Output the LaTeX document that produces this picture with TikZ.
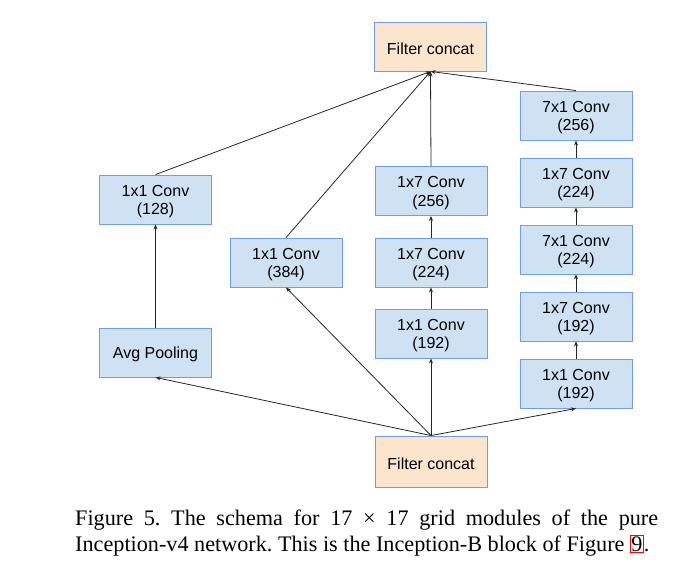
\documentclass[tikz,border=0pt]{standalone}
\usepackage{fontspec}
\setmainfont{Liberation Serif}
\newfontfamily\boxfont{Liberation Sans}
\usetikzlibrary{arrows.meta}
\definecolor{boxblue}{HTML}{CFE2F3}
\definecolor{boxpeach}{HTML}{FCE5CD}
\definecolor{boxedge}{HTML}{6D9EEB}
\newcommand{\topstrut}{\rule{0pt}{15.5pt}}
\tikzset{
  convbox/.style={draw=boxedge, fill=boxblue, line width=0.9pt, minimum width=112pt, minimum height=49pt, inner sep=0pt, align=center, font=\boxfont\fontsize{16}{18.5}\selectfont},
  concatbox/.style={convbox, fill=boxpeach},
  link/.style={line width=0.8pt, draw=black!85, -{Stealth[length=5pt,width=4pt]}},
  captext/.style={anchor=base west, inner sep=0pt, font=\frenchspacing\fontsize{22.2}{26}\selectfont}
}
\begin{document}
\begin{tikzpicture}[x=1pt,y=-1pt]
\useasboundingbox (0,0) rectangle (673,566);
% nodes
\node[concatbox] (top) at (430.5,46.5) {\topstrut Filter concat};
\node[concatbox, minimum height=51pt] (bot) at (431,461.5) {\topstrut Filter concat};
\node[convbox] (a2) at (155.5,199.5) {\topstrut 1x1 Conv\\(128)};
\node[convbox] (a1) at (155.5,352.5) {\topstrut Avg Pooling};
\node[convbox] (b1) at (286,262.5) {\topstrut 1x1 Conv\\(384)};
\node[convbox] (c3) at (431,191) {\topstrut 1x7 Conv\\(256)};
\node[convbox] (c2) at (431,262.5) {\topstrut 1x7 Conv\\(224)};
\node[convbox] (c1) at (431,333.5) {\topstrut 1x1 Conv\\(192)};
\node[convbox] (d5) at (576,115.5) {\topstrut 7x1 Conv\\(256)};
\node[convbox] (d4) at (576,182.5) {\topstrut 1x7 Conv\\(224)};
\node[convbox] (d3) at (576,249.5) {\topstrut 7x1 Conv\\(224)};
\node[convbox] (d2) at (576,316.5) {\topstrut 1x7 Conv\\(192)};
\node[convbox] (d1) at (576,383.5) {\topstrut 1x1 Conv\\(192)};
% from bottom concat
\draw[link] (bot.north) -- (a1.south);
\draw[link] (bot.north) -- (b1.south);
\draw[link] (bot.north) -- (c1.south);
\draw[link] (bot.north) -- (d1.south);
% within branches
\draw[link] (a1.north) -- (a2.south);
\draw[link] (c1.north) -- (c2.south);
\draw[link] (c2.north) -- (c3.south);
\draw[link] (d1.north) -- (d2.south);
\draw[link] (d2.north) -- (d3.south);
\draw[link] (d3.north) -- (d4.south);
\draw[link] (d4.north) -- (d5.south);
% into top concat
\draw[link] (a2.north) -- (top.south);
\draw[link] (b1.north) -- (top.south);
\draw[link] (c3.north) -- (top.south);
\draw[link] (d5.north) -- (top.south);
% caption
\node[captext] (cap1) at (75,525)
  {\makebox[583pt][s]{Figure 5. The schema for 17 × 17 grid modules of the pure}};
\node[captext] (cap2) at (75,551)
  {Inception-v4 network. This is the Inception-B block of Figure {\setlength\fboxsep{0.5pt}\setlength\fboxrule{0.8pt}\fcolorbox{red}{white}{9}}.};
\end{tikzpicture}
\end{document}
